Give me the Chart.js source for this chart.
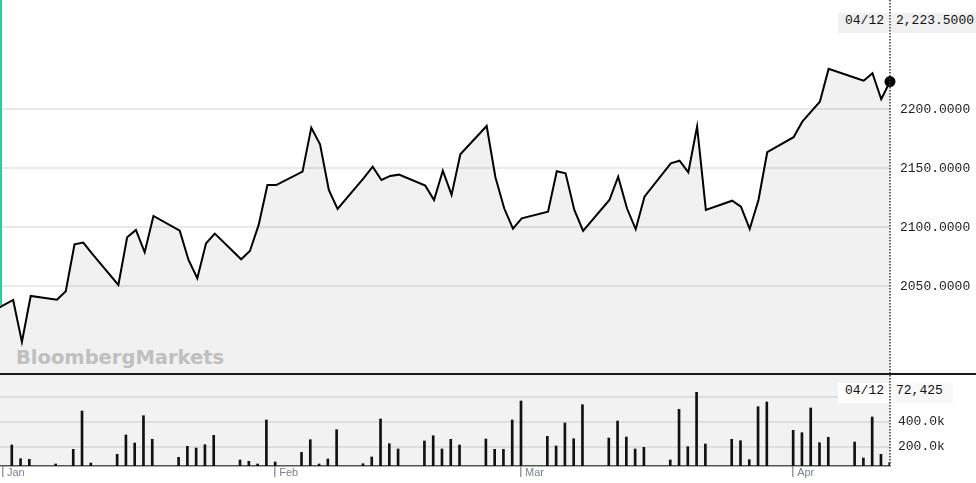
<!DOCTYPE html>
<html lang="en">
<head>
  <meta charset="UTF-8">
  <title>Price and volume, Jan to Apr</title>
  <script src="https://cdn.jsdelivr.net/npm/chart.js"></script>
  <style>
    html, body { margin: 0; padding: 0; background: #fff; overflow: hidden; }
    #wrap { position: relative; width: 976px; height: 483px; }
    canvas { position: absolute; left: 0; }
    #priceChart { top: 0; }
    #volChart { top: 375px; }
    .teal { position: absolute; left: 0; top: 0; width: 2px; height: 305px; background: #20d39e; }
    .sep { position: absolute; left: 0; top: 373px; width: 976px; height: 2px; background: #1a1a1a; }
    .mark {
      position: absolute; left: 16px; top: 346px;
      font: bold 19.5px "DejaVu Sans", sans-serif;
      color: #cbcbcb;
    }
    .tag {
      position: absolute; height: 20px; line-height: 20px;
      font: 13px "Liberation Mono", monospace; color: #111;
      box-sizing: border-box; white-space: nowrap;
    }
    .tag.date { text-align: right; padding-right: 5px; }
    .tag.val { padding-left: 5px; }
  </style>
</head>
<body>
<div id="wrap">
  <div class="mark">BloombergMarkets</div>
  <canvas id="priceChart" width="976" height="373"></canvas>
  <canvas id="volChart" width="976" height="108"></canvas>
  <div class="teal"></div>
  <div class="sep"></div>

  <!-- last value tags -->
  <div class="tag date" id="pDate" style="left:838px;top:13px;width:51px;background:#f0f0f0"></div>
  <div class="tag val" id="pVal" style="left:891px;top:13px;width:85px;background:#f0f0f0"></div>
  <div class="tag date" id="vDate" style="left:838px;top:383px;width:51px;background:#fff"></div>
  <div class="tag val" id="vVal" style="left:891px;top:383px;width:62px;background:#f8f8f8"></div>
</div>

<script>
  // ---- data ----
  const dates = [
    "2018-12-31",
    "2019-01-02", "2019-01-03", "2019-01-04", "2019-01-07", "2019-01-08", "2019-01-09", "2019-01-10", "2019-01-11",
    "2019-01-14", "2019-01-15", "2019-01-16", "2019-01-17", "2019-01-18", "2019-01-21", "2019-01-22", "2019-01-23",
    "2019-01-24", "2019-01-25", "2019-01-28", "2019-01-29", "2019-01-30", "2019-01-31", "2019-02-01", "2019-02-04",
    "2019-02-05", "2019-02-06", "2019-02-07", "2019-02-08", "2019-02-11", "2019-02-12", "2019-02-13", "2019-02-14",
    "2019-02-15", "2019-02-18", "2019-02-19", "2019-02-20", "2019-02-21", "2019-02-22", "2019-02-25", "2019-02-26",
    "2019-02-27", "2019-02-28", "2019-03-01", "2019-03-04", "2019-03-05", "2019-03-06", "2019-03-07", "2019-03-08",
    "2019-03-11", "2019-03-12", "2019-03-13", "2019-03-14", "2019-03-15", "2019-03-18", "2019-03-19", "2019-03-20",
    "2019-03-21", "2019-03-22", "2019-03-25", "2019-03-26", "2019-03-27", "2019-03-28", "2019-03-29", "2019-04-01",
    "2019-04-02", "2019-04-03", "2019-04-04", "2019-04-05", "2019-04-08", "2019-04-09", "2019-04-10", "2019-04-11",
    "2019-04-12"
  ];

  const closes = [
    2030.3,
    2038.4, 2002.8, 2041.8, 2038.6, 2045.8, 2085.6, 2087.0, 2077.7,
    2051.1, 2091.5, 2097.7, 2078.8, 2109.6, 2097.1, 2072.3, 2056.8,
    2086.4, 2094.6, 2072.9, 2079.9, 2102.0, 2135.8, 2135.8, 2147.1,
    2184.4, 2170.3, 2131.6, 2115.5, 2141.8, 2151.4, 2140.1, 2143.5,
    2144.6, 2135.3, 2123.1, 2148.0, 2127.4, 2161.9, 2185.8, 2142.4,
    2116.1, 2098.8, 2107.6, 2113.2, 2147.5, 2145.8, 2114.7, 2096.9,
    2123.1, 2142.9, 2116.1, 2098.3, 2125.9, 2154.2, 2156.4, 2146.6,
    2185.3, 2114.7, 2122.5, 2117.5, 2098.6, 2123.1, 2163.6, 2176.3,
    2189.5, 2198.0, 2206.4, 2234.2, 2226.7, 2224.2, 2230.5, 2208.5,
    2223.5
  ];

  const volumes = [
    null,
    213600, 104000, 99000, 61600, null, 179000, 485600, 69600,
    139000, 293600, 229600, 448000, 259000, 115000, 203000, 189600,
    216000, 291000, 93600, 83000, 61600, 413600, 77600, 155000,
    256000, 61600, 101600, 336000, 64000, 117600, 421600, 224000,
    181600, 245600, 288000, 181600, 259000, 213600, 261600, 179000,
    179000, 413600, 565600, 283000, 205600, 389600, 264000, 536000,
    269600, 405600, 277600, 181600, 195000, 93600, 499000, 200000,
    635000, 221600, 259000, 248000, 96000, 520000, 557600, 331000,
    312000, 509600, 232000, 275000, 237600, 109600, 437600, 139000,
    72425
  ];

  const monthStarts = ["2019-01-01", "2019-02-01", "2019-03-01", "2019-04-01"];
  const monthLabels = ["Jan", "Feb", "Mar", "Apr"];
  const priceTicks = [2050, 2100, 2150, 2200];
  const volumeTicks = [200000, 400000, 600000];

  // ---- helpers ----
  const day0 = Date.UTC(2019, 0, 1);
  function dayIndex(s) {
    const [y, m, d] = s.split("-").map(Number);
    return (Date.UTC(y, m - 1, d) - day0) / 86400000;
  }
  const days = dates.map(dayIndex);
  const monthDays = monthStarts.map(dayIndex);
  const last = closes.length - 1;

  const pricePts = days.map((d, i) => ({ x: d, y: closes[i] }));
  const volPts = days.map((d, i) => ({ x: d, y: volumes[i] }));

  // tags from the last row
  const [ly, lm, ld] = dates[last].split("-");
  document.getElementById("pDate").textContent = lm + "/" + ld;
  document.getElementById("vDate").textContent = lm + "/" + ld;
  document.getElementById("pVal").textContent =
    closes[last].toLocaleString("en-US", { minimumFractionDigits: 4, maximumFractionDigits: 4 });
  document.getElementById("vVal").textContent = volumes[last].toLocaleString("en-US");

  // grey panel behind the volume bars + dotted "now" line on the right edge
  const panelBg = {
    id: "panelBg",
    beforeDraw(chart, args, opts) {
      if (!opts.color) return;
      const a = chart.chartArea, c = chart.ctx;
      c.save();
      c.fillStyle = opts.color;
      c.fillRect(a.left, a.top, a.right - a.left, a.bottom - a.top);
      c.restore();
    }
  };
  const edgeLine = {
    id: "edgeLine",
    afterDraw(chart) {
      const a = chart.chartArea, c = chart.ctx;
      c.save();
      c.strokeStyle = "#333";
      c.lineWidth = 1.5;
      c.setLineDash([1.5, 1.5]);
      c.beginPath();
      c.moveTo(a.right, 0);
      c.lineTo(a.right, a.bottom);
      c.stroke();
      c.restore();
    }
  };
  Chart.register(panelBg, edgeLine);

  const mono = { family: "'Liberation Mono', monospace", size: 13 };
  const noPad = s => { s.paddingTop = 0; s.paddingBottom = 0; s.paddingLeft = 0; s.paddingRight = 0; };

  // price
  new Chart("priceChart", {
    type: "line",
    data: {
      datasets: [{
        data: pricePts,
        borderColor: "#000",
        borderWidth: 2,
        backgroundColor: "rgba(0,0,0,0.055)",
        fill: "start",
        tension: 0,
        pointRadius: c => c.dataIndex === last ? 5.5 : 0,
        pointBackgroundColor: "#000",
        pointBorderWidth: 0,
        clip: { left: 0, top: 0, right: 10, bottom: 0 }
      }]
    },
    options: {
      responsive: false,
      animation: false,
      layout: { padding: 0, autoPadding: false },
      plugins: { legend: { display: false }, tooltip: { enabled: false } },
      scales: {
        x: { type: "linear", min: -0.5, max: 101, display: false },
        y: {
          position: "right",
          min: 1976.5,
          max: 2292.6,
          afterBuildTicks: s => { s.ticks = priceTicks.map(v => ({ value: v })); },
          afterFit: s => { s.width = 86; noPad(s); },
          grid: { color: "#e9e9e9", lineWidth: 2, drawTicks: false },
          border: { display: false },
          ticks: { padding: 10, font: mono, color: "#222", callback: v => v.toFixed(4) }
        }
      }
    }
  });

  // volume
  new Chart("volChart", {
    type: "bar",
    data: {
      datasets: [{
        data: volPts,
        backgroundColor: "#111",
        barThickness: 2
      }]
    },
    options: {
      responsive: false,
      animation: false,
      layout: { padding: 0, autoPadding: false },
      plugins: { legend: { display: false }, tooltip: { enabled: false }, panelBg: { color: "#f2f2f2" } },
      scales: {
        x: {
          type: "linear",
          min: -0.342,
          max: 101.03,
          offset: false,
          afterBuildTicks: s => { s.ticks = monthDays.map(v => ({ value: v })); },
          afterFit: s => { s.height = 17; noPad(s); },
          grid: { offset: false, drawOnChartArea: false, tickLength: 11, color: "#9a9a9a", lineWidth: 1.5 },
          border: { display: true, color: "#555", width: 1.5 },
          ticks: {
            align: "start", padding: -11, labelOffset: 4, autoSkip: false, maxRotation: 0,
            font: { family: "'Liberation Sans', Arial, sans-serif", size: 11 },
            color: "#7b8191",
            callback: (v, i) => monthLabels[i]
          }
        },
        y: {
          position: "right",
          min: 45600,
          max: 773600,
          afterBuildTicks: s => { s.ticks = volumeTicks.map(v => ({ value: v })); },
          afterFit: s => { s.width = 86; noPad(s); },
          grid: { color: "#dedede", lineWidth: 2, drawTicks: false },
          border: { display: false },
          ticks: { padding: 8, font: mono, color: "#222", callback: v => (v / 1000).toFixed(1) + "k" }
        }
      }
    }
  });
</script>
</body>
</html>
